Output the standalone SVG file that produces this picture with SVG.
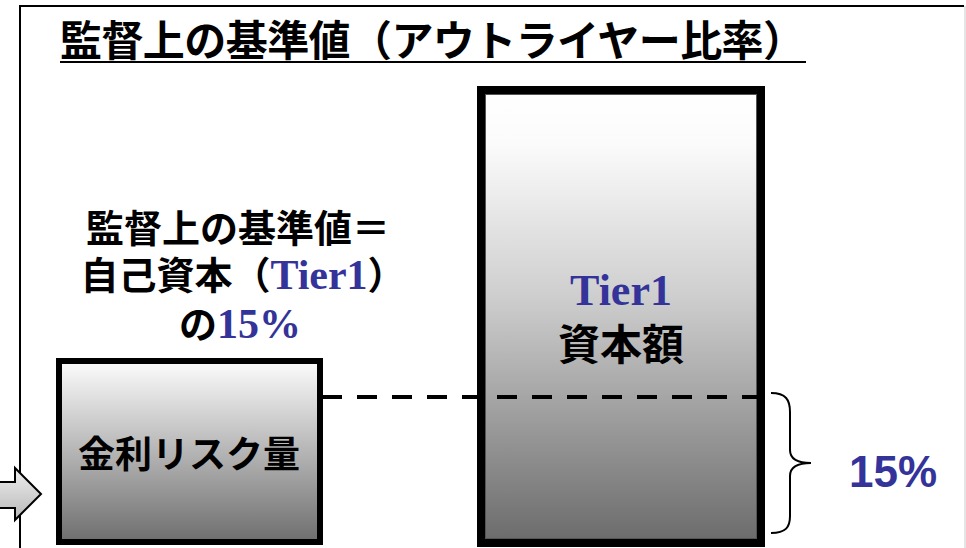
<svg xmlns="http://www.w3.org/2000/svg" width="966" height="548" viewBox="0 0 966 548">
<defs>
<linearGradient id="gTall" x1="0" y1="0" x2="0" y2="1">
<stop offset="0" stop-color="#ffffff"/>
<stop offset="0.12" stop-color="#fbfbfb"/>
<stop offset="0.45" stop-color="#cfcfcf"/>
<stop offset="1" stop-color="#6b6b6b"/>
</linearGradient>
<linearGradient id="gSmall" x1="0" y1="0" x2="0" y2="1">
<stop offset="0" stop-color="#fcfcfc"/>
<stop offset="1" stop-color="#6e6e6e"/>
</linearGradient>
<linearGradient id="gArrow" x1="0" y1="0" x2="0" y2="1">
<stop offset="0" stop-color="#eeeeee"/>
<stop offset="1" stop-color="#b8b8b8"/>
</linearGradient>
</defs>
<style>
.jp{font-family:"Noto Sans CJK JP","Noto Sans CJK SC",sans-serif;font-weight:bold;fill:#000}
.tnr{font-family:"Liberation Serif",serif;font-weight:bold;fill:#333399}
.ar{font-family:"Liberation Sans",Arial,sans-serif;font-weight:bold;fill:#333399}
.frame{fill:none;stroke:#000;stroke-width:2}
</style>
<rect width="966" height="548" fill="#ffffff"/>
<g id="frame">
<polyline class="frame" points="20,548 20,6 964,6"/>
<line x1="965" y1="6" x2="965" y2="548" stroke="#cccccc" stroke-width="1"/>
</g>
<g id="title">
<text class="jp" x="60" y="56" font-size="42" textLength="745" lengthAdjust="spacing">監督上の基準値（アウトライヤー比率）</text>
<line x1="60" y1="62" x2="806" y2="62" stroke="#000" stroke-width="2"/>
</g>
<g id="arrow">
<polygon points="-4,482 15,482 15,468 41,494 15,520 15,508 -4,508" fill="url(#gArrow)" stroke="#000" stroke-width="2" stroke-linejoin="miter"/>
</g>
<g id="tier1-box">
<rect x="481" y="90" width="280" height="453" fill="url(#gTall)" stroke="#000" stroke-width="8"/>
<rect x="485.5" y="94.5" width="271" height="444" fill="none" stroke="#555" stroke-width="1"/>
<text class="tnr" x="621" y="305" font-size="44" text-anchor="middle">Tier1</text>
<text class="jp" x="621" y="360" font-size="42" text-anchor="middle">資本額</text>
</g>
<g id="risk-box">
<rect x="59" y="361" width="261" height="181" fill="url(#gSmall)" stroke="#000" stroke-width="6"/>
<text class="jp" x="189" y="468" font-size="37" text-anchor="middle">金利リスク量</text>
</g>
<g id="label">
<text class="jp" x="238" y="242" font-size="38" text-anchor="middle">監督上の基準値＝</text>
<text class="jp" x="243" y="289" font-size="38" text-anchor="middle">自己資本（<tspan class="tnr" font-size="42">Tier1</tspan>）</text>
<text class="jp" x="240" y="338" font-size="38" text-anchor="middle">の<tspan class="tnr" font-size="42">15%</tspan></text>
</g>
<g id="connectors">
<line x1="322" y1="397" x2="765" y2="397" stroke="#000" stroke-width="4" stroke-dasharray="20 15"/>
<path d="M771,393 C786,393 790,400 790,412 L790,450 C790,458 796,463 811,463 C796,463 790,468 790,476 L790,516 C790,527 786,533 771,533" fill="none" stroke="#000" stroke-width="2"/>
</g>
<g id="pct">
<text class="ar" x="893" y="487" font-size="44" text-anchor="middle">15%</text>
</g>
</svg>
